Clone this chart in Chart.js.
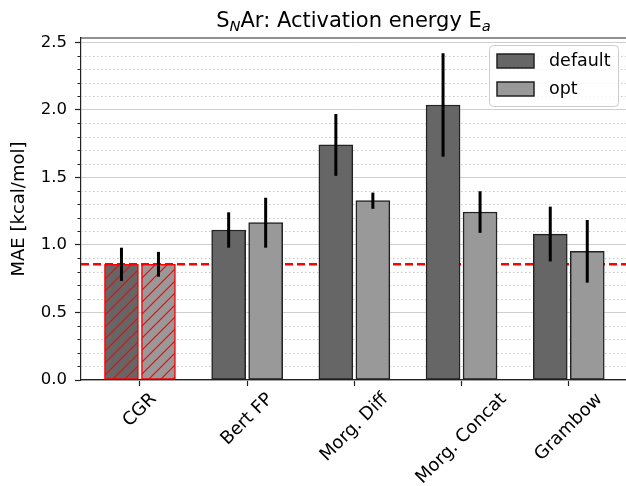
<!DOCTYPE html>
<html>
<head>
<meta charset="utf-8">
<script src="https://cdn.jsdelivr.net/npm/chart.js@4"></script>
<style>
  html, body { margin: 0; padding: 0; background: #fff; }
</style>
</head>
<body>
<canvas id="chart" width="626" height="486"></canvas>
<script>
// data
const categories = ['CGR', 'Bert FP', 'Morg. Diff', 'Morg. Concat', 'Grambow'];
const defaultMae = [0.857, 1.111, 1.741, 2.037, 1.081];
const defaultErr = [0.123, 0.131, 0.229, 0.383, 0.203];
const optMae = [0.857, 1.165, 1.328, 1.244, 0.953];
const optErr = [0.092, 0.185, 0.060, 0.154, 0.232];
const yTicks = [0.0, 0.5, 1.0, 1.5, 2.0, 2.5];
const baselineValue = defaultMae[0]; // dashed red line = CGR level

const FONT = '"DejaVu Sans", sans-serif';
const BAR_SHIFT = 0.1726; // half group offset in category units
const DARK = '#666666';
const LIGHT = '#999999';

// red "//" hatch for the CGR bars
function hatch(fill) {
  const c = document.createElement('canvas');
  c.width = 12; c.height = 12;
  const g = c.getContext('2d');
  g.fillStyle = fill;
  g.fillRect(0, 0, 12, 12);
  g.strokeStyle = 'red';
  g.lineWidth = 1.2;
  g.beginPath();
  g.moveTo(0, 12); g.lineTo(12, 0);
  g.moveTo(-6, 6); g.lineTo(6, -6);
  g.moveTo(6, 18); g.lineTo(18, 6);
  g.stroke();
  return g.createPattern(c, 'repeat');
}

function makeDataset(label, values, errs, fill, shift) {
  return {
    label: label,
    data: values.map((v, i) => ({ x: i + shift, y: v })),
    errors: errs,
    grouped: false,
    barThickness: 34,
    backgroundColor: ctx => ctx.dataIndex === 0 ? hatch(fill) : fill,
    borderColor: ctx => ctx.dataIndex === 0 ? 'red' : '#222',
    borderWidth: 1.5,
    borderSkipped: false
  };
}

// grid details, reference line, frame top
const backdrop = {
  id: 'backdrop',
  beforeDatasetsDraw(chart) {
    const { ctx, chartArea: a, scales: { y } } = chart;
    ctx.save();
    // minor dotted gridlines + minor ticks
    ctx.strokeStyle = '#c8c8c8';
    ctx.lineWidth = 1;
    ctx.setLineDash([1.5, 2.5]);
    for (let k = 1; k < 26; k++) {
      if (k % 5 === 0) continue;
      const py = Math.round(y.getPixelForValue(k / 10)) + 0.5;
      ctx.beginPath();
      ctx.moveTo(a.left, py);
      ctx.lineTo(a.right, py);
      ctx.stroke();
    }
    ctx.setLineDash([]);
    ctx.strokeStyle = '#222';
    for (let k = 1; k < 26; k++) {
      if (k % 5 === 0) continue;
      const py = Math.round(y.getPixelForValue(k / 10)) + 0.5;
      ctx.beginPath();
      ctx.moveTo(a.left - 3.5, py);
      ctx.lineTo(a.left, py);
      ctx.stroke();
    }
    // dashed red baseline
    const by = y.getPixelForValue(baselineValue);
    ctx.strokeStyle = 'red';
    ctx.lineWidth = 2.5;
    ctx.setLineDash([8, 4]);
    ctx.beginPath();
    ctx.moveTo(a.left, by);
    ctx.lineTo(a.right, by);
    ctx.stroke();
    ctx.restore();
  },
  afterDraw(chart) {
    const { ctx, chartArea: a } = chart;
    ctx.save();
    ctx.strokeStyle = '#222';
    ctx.lineWidth = 1.2;
    ctx.beginPath();
    ctx.moveTo(a.left, a.top);
    ctx.lineTo(a.right, a.top);
    ctx.stroke();
    ctx.restore();
  }
};

// symmetric error bars
const errorBars = {
  id: 'errorBars',
  afterDatasetsDraw(chart) {
    const { ctx, scales: { y } } = chart;
    ctx.save();
    ctx.strokeStyle = '#000';
    ctx.lineWidth = 3;
    chart.data.datasets.forEach((ds, di) => {
      const meta = chart.getDatasetMeta(di);
      meta.data.forEach((bar, i) => {
        const v = ds.data[i].y, e = ds.errors[i];
        ctx.beginPath();
        ctx.moveTo(bar.x, y.getPixelForValue(v + e));
        ctx.lineTo(bar.x, y.getPixelForValue(v - e));
        ctx.stroke();
      });
    });
    ctx.restore();
  }
};

// title with subscripts, rotated x labels, legend box
const texts = {
  id: 'texts',
  afterDraw(chart) {
    const { ctx, chartArea: a, scales: { x } } = chart;
    ctx.save();
    ctx.fillStyle = '#000';

    // title: S_N Ar: Activation energy E_a
    const parts = [
      { t: 'S', f: '21px ' + FONT, dy: 0 },
      { t: 'N', f: 'italic 14.7px ' + FONT, dy: 4 },
      { t: 'Ar: Activation energy E', f: '21px ' + FONT, dy: 0 },
      { t: 'a', f: 'italic 14.7px ' + FONT, dy: 4 }
    ];
    let total = 0;
    parts.forEach(p => { ctx.font = p.f; p.w = ctx.measureText(p.t).width; total += p.w; });
    let tx = (a.left + a.right) / 2 - total / 2;
    ctx.textBaseline = 'alphabetic';
    ctx.textAlign = 'left';
    parts.forEach(p => { ctx.font = p.f; ctx.fillText(p.t, tx, 27 + p.dy); tx += p.w; });

    // x tick labels, rotated 45deg, bbox centered under the tick
    const fs = 18;
    ctx.font = fs + 'px ' + FONT;
    ctx.textAlign = 'center';
    ctx.textBaseline = 'middle';
    const lh = fs * 1.17;
    categories.forEach((c, i) => {
      const w = ctx.measureText(c).width;
      const side = (w + lh) * Math.SQRT1_2;
      const cx = x.getPixelForValue(i);
      const cy = a.bottom + 9 + side / 2;
      ctx.save();
      ctx.translate(cx, cy);
      ctx.rotate(-Math.PI / 4);
      ctx.fillText(c, 0, 0);
      ctx.restore();
    });

    // legend
    const lx = 489, ly = 45, lw = 129, lhgt = 61;
    ctx.beginPath();
    ctx.roundRect(lx + 0.5, ly + 0.5, lw, lhgt, 4);
    ctx.fillStyle = 'rgba(255,255,255,0.8)';
    ctx.fill();
    ctx.strokeStyle = '#cccccc';
    ctx.lineWidth = 1;
    ctx.stroke();
    const fills = [DARK, LIGHT];
    chart.data.datasets.forEach((ds, i) => {
      const py = ly + 9 + i * 28;
      ctx.fillStyle = fills[i];
      ctx.fillRect(497, py, 37, 14);
      ctx.strokeStyle = '#222';
      ctx.lineWidth = 1.5;
      ctx.strokeRect(497, py, 37, 14);
      ctx.fillStyle = '#000';
      ctx.font = '17.5px ' + FONT;
      ctx.textAlign = 'left';
      ctx.textBaseline = 'middle';
      ctx.fillText(ds.label, 549, py + 7);
    });
    ctx.restore();
  }
};

new Chart(document.getElementById('chart'), {
  type: 'bar',
  data: {
    datasets: [
      makeDataset('default', defaultMae, defaultErr, DARK, -BAR_SHIFT),
      makeDataset('opt', optMae, optErr, LIGHT, BAR_SHIFT)
    ]
  },
  options: {
    responsive: false,
    animation: false,
    devicePixelRatio: 1,
    layout: { padding: { top: 38, left: 0, right: 0, bottom: 0 } },
    plugins: {
      legend: { display: false },
      tooltip: { enabled: false }
    },
    scales: {
      x: {
        type: 'linear',
        min: -0.550,
        max: 4.534,
        offset: false,
        afterBuildTicks: s => { s.ticks = categories.map((c, i) => ({ value: i })); },
        afterFit: s => { s.height = 106; },
        ticks: { display: false },
        grid: { offset: false, drawOnChartArea: false, drawTicks: true, tickLength: 6, tickColor: '#222', tickWidth: 1.2 },
        border: { color: '#222', width: 1.2 }
      },
      y: {
        min: 0,
        max: 2.533,
        afterBuildTicks: s => { s.ticks = yTicks.map(v => ({ value: v })); },
        afterFit: s => { s.width = 81; },
        ticks: {
          callback: v => v.toFixed(1),
          color: '#000',
          padding: 8,
          font: { family: FONT, size: 16.5 }
        },
        grid: { color: '#cfcfcf', lineWidth: 1, tickLength: 6, tickColor: '#222', tickWidth: 1.2 },
        border: { color: '#222', width: 1.2 },
        title: {
          display: true,
          text: 'MAE [kcal/mol]',
          color: '#000',
          font: { family: FONT, size: 18 },
          padding: { top: 9, bottom: 0 }
        }
      }
    }
  },
  plugins: [backdrop, errorBars, texts]
});
</script>
</body>
</html>
